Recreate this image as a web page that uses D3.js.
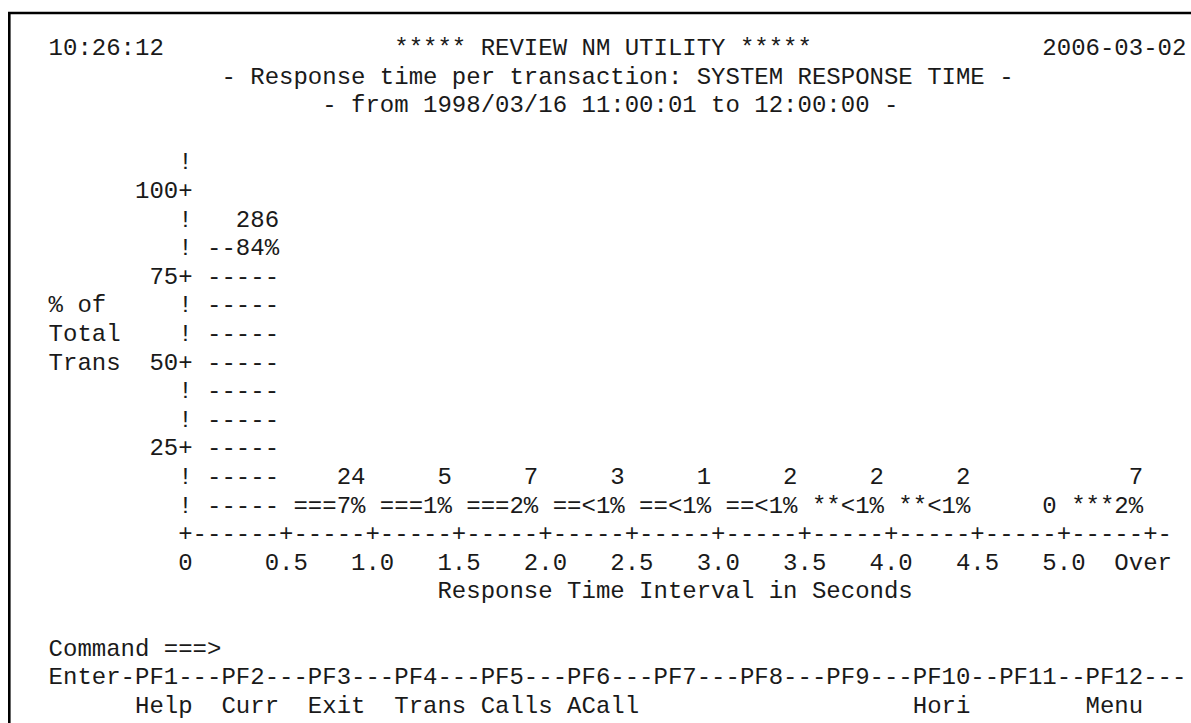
<!DOCTYPE html>
<html>
<head>
<meta charset="utf-8">
<script src="https://cdn.jsdelivr.net/npm/d3@7"></script>
<style>
    body { margin: 0; background: #fff; }
    svg text { font-family: "Liberation Mono", "Courier New", monospace; font-size: 24px; fill: #1a1a1a; white-space: pre; }
</style>
</head>
<body>
<div id="screen"></div>
<script>
// header texts
var timeStamp = "10:26:12";
var screenTitle = "***** REVIEW NM UTILITY *****";
var screenDate = "2006-03-02";
var subTitle = "- Response time per transaction: SYSTEM RESPONSE TIME -";
var periodText = "- from 1998/03/16 11:00:01 to 12:00:00 -";

// histogram data
var tickLabels = ["0", "0.5", "1.0", "1.5", "2.0", "2.5", "3.0", "3.5", "4.0", "4.5", "5.0", "Over"];
var counts = [286, 24, 5, 7, 3, 1, 2, 2, 2, 0, 7];
var percents = [84, 7, 1, 2, 0.9, 0.3, 0.6, 0.6, 0.6, 0, 2];
var barChars = ["-", "=", "=", "=", "=", "=", "=", "*", "*", "*", "*"];
var yTicks = [25, 50, 75, 100];
var yLabel = ["% of", "Total", "Trans"];
var xLabel = "Response Time Interval in Seconds";

// pf keys
var commandText = "Command ===>";
var pfKeys = ["PF1", "PF2", "PF3", "PF4", "PF5", "PF6", "PF7", "PF8", "PF9", "PF10", "PF11", "PF12"];
var pfLabels = ["Help", "Curr", "Exit", "Trans", "Calls", "ACall", "", "", "", "Hori", "", "Menu"];

var W = 1191, H = 723;
var ROWS = 24, COLS = 79;

// character grid of the 3270 screen
var grid = d3.range(ROWS).map(function() { return d3.range(COLS).map(function() { return " "; }); });
function put(r, c, str) {
    for (var i = 0; i < str.length; i++) {
        if (r >= 0 && r < ROWS && c + i >= 0 && c + i < COLS) grid[r][c + i] = str[i];
    }
}
function putRight(r, cEnd, str) { put(r, cEnd - str.length + 1, str); }

// grid -> pixels
var colPx = d3.scaleLinear().domain([0, 1]).range([48.6, 63.0]);
var rowPx = d3.scaleLinear().domain([0, 1]).range([55, 83.6]);

// chart scales in character cells
var x = d3.scaleLinear().domain([0, counts.length]).range([10, 76]);
var y = d3.scaleLinear().domain([0, 100]).range([17, 5]);
var axisRow = y(0), axisCol = x(0) - 1;

// header
put(0, 0, timeStamp);
put(0, 24, screenTitle);
putRight(0, COLS - 1, screenDate);
put(1, 12, subTitle);
put(2, 19, periodText);

// y axis
for (var r = y(100) - 1; r < axisRow; r++) put(r, axisCol, "!");
yTicks.forEach(function(t) {
    put(y(t), axisCol, "+");
    putRight(y(t), axisCol - 1, String(t));
});
yLabel.forEach(function(s, i) { put(y(75) + 1 + i, 0, s); });

// x axis (tick 0 sits on the corner)
put(axisRow, axisCol, "+");
for (var c = x(0); c <= x(counts.length) + 1; c++) put(axisRow, c, "-");
tickLabels.forEach(function(lbl, k) {
    var tc = k === 0 ? axisCol : x(k);
    if (k > 0) put(axisRow, tc, "+");
    put(axisRow + 1, tc - Math.floor(lbl.length / 2), lbl);
});
put(axisRow + 2, 27, xLabel);

// bars
function pctLabel(p) { return p < 1 ? "<1%" : Math.round(p) + "%"; }
counts.forEach(function(n, k) {
    var left = x(k) + 1, right = x(k + 1) - 1, w = right - left + 1;
    if (n === 0) { putRight(axisRow - 1, right, String(n)); return; }
    var h = Math.max(1, Math.round(axisRow - y(percents[k])));
    var top = axisRow - h;
    for (var r = top + 1; r < axisRow; r++) put(r, left, barChars[k].repeat(w));
    var lbl = pctLabel(percents[k]);
    put(top, left, barChars[k].repeat(w - lbl.length) + lbl);
    putRight(top - 1, right, String(n));
});

// footer
put(21, 0, commandText);
put(22, 0, "-".repeat(COLS));
put(22, 0, "Enter");
pfKeys.forEach(function(k, i) {
    put(22, 6 + 6 * i, k);
    put(23, 6 + 6 * i, pfLabels[i]);
});

var svg = d3.select("#screen").append("svg")
    .attr("width", W)
    .attr("height", H);

svg.append("rect").attr("width", W).attr("height", H).attr("fill", "#fff");

// frame (left and top edge of the window)
svg.append("path")
    .attr("d", "M9.3," + H + "V13H" + W)
    .attr("fill", "none")
    .attr("stroke", "#000")
    .attr("stroke-width", 2.6);

svg.selectAll("text.line")
    .data(grid)
    .join("text")
    .attr("class", "line")
    .attr("xml:space", "preserve")
    .attr("x", colPx(0))
    .attr("y", function(d, i) { return rowPx(i); })
    .text(function(d) { return d.join("").replace(/\s+$/, ""); });
</script>
</body>
</html>
